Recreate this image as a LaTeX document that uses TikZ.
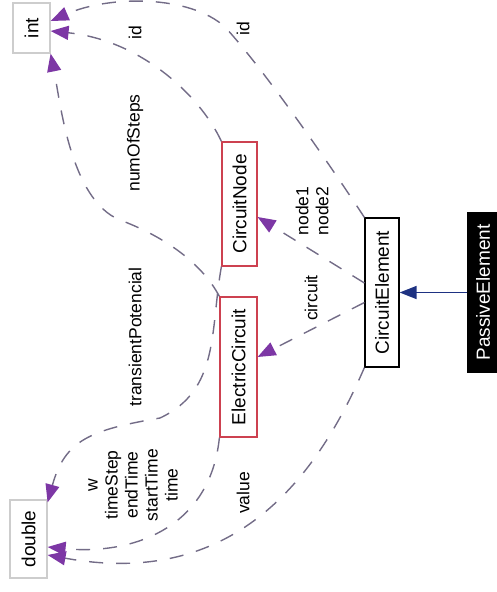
\documentclass[tikz,border=0pt]{standalone}
\usepackage{fontspec}
\setmainfont{Liberation Sans}
\usetikzlibrary{arrows.meta}
\definecolor{memberline}{RGB}{115,108,135}
\definecolor{memberhead}{RGB}{125,55,165}
\definecolor{truncred}{RGB}{205,65,80}
\definecolor{plaingray}{RGB}{205,205,205}
\definecolor{inheritblue}{RGB}{30,50,130}
\tikzset{
  cls/.style={draw, rotate=90, inner sep=0pt, line width=1.2pt,
    font=\fontsize{19}{21}\selectfont},
  builtin/.style={cls, draw=plaingray},
  trunc/.style={cls, draw=truncred},
  lbl/.style={rotate=90, align=center, inner sep=0pt,
    font=\fontsize{17.5}{20}\selectfont},
  member/.style={draw=memberline, line width=1.4pt, dash pattern=on 14pt off 13pt,
    -{Triangle[length=18pt, width=14pt, color=memberhead]}},
  inherit/.style={draw=inheritblue, line width=1.6pt,
    -{Triangle[length=17pt, width=13pt, color=inheritblue]}}
}
\begin{document}
\begin{tikzpicture}[x=1pt, y=-1pt]
\useasboundingbox (0,0) rectangle (496,592);
\draw(31.5,28) node[builtin, minimum width=50pt, minimum height=37pt](int){int};
\draw(28.5,539) node[builtin, minimum width=78pt, minimum height=37pt](double){double};
%
\draw(239.5,204) node[trunc, minimum width=124pt, minimum height=35pt](CircuitNode){CircuitNode};
\draw(238.5,367) node[trunc, minimum width=140pt, minimum height=37pt](ElectricCircuit){ElectricCircuit};
%
\draw(382,292.5) node[cls, minimum width=149pt, minimum height=34pt](CircuitElement){CircuitElement};
\draw(483,292.5) node[cls, fill=black, text=white, minimum width=159pt, minimum height=30pt](PassiveElement){PassiveElement};
\draw[inherit] (PassiveElement.north) -- (CircuitElement.south);
%
\draw[member] (CircuitElement.north east) .. controls (320,150) and (260,65) .. (225,27)
  .. controls (190,-5) and (110,-5) .. ([yshift=7pt] int.south);
\draw(243,29) node[lbl](idElement){id};
\draw[member] (CircuitNode.north east) .. controls (200,95) and (140,40) .. 
  ([yshift=-3pt] int.south);
\draw(135,33) node[lbl](idNode){id};
\draw[member] (ElectricCircuit.north east) .. controls (200,260) and (160,235) .. (120,220)
  .. controls (70,200) and (60,100) .. (int.south west);
\draw(135,143) node[lbl](numOfSteps){numOfSteps};
%
\draw[member] (CircuitNode.north west) .. controls (210,330) and (220,390) .. (160,418)
  .. controls (90,430) and (65,440) .. ([yshift=-3pt] double.south east);
\draw(135,337) node[lbl](transientPotencial){transientPotencial};
\draw[member] (ElectricCircuit.north west) .. controls (210,530) and (130,555) .. 
  ([yshift=-8pt] double.south);
\draw(133,485) node[lbl](times){w\\timeStep\\endTime\\startTime\\time};
\draw[member] (CircuitElement.north west) .. controls (320,470) and (240,590) .. 
  ([yshift=-16pt] double.south);
\draw(243,493) node[lbl](value){value};
%
\draw[member] ([yshift=9.5pt] CircuitElement.north) -- ([yshift=-13pt] CircuitNode.south);
\draw(312,211) node[lbl](nodes){node1\\node2};
\draw[member] ([yshift=-10pt] CircuitElement.north) -- ([yshift=10pt] ElectricCircuit.south);
\draw(311,298) node[lbl](circuit){circuit};
\end{tikzpicture}
\end{document}
